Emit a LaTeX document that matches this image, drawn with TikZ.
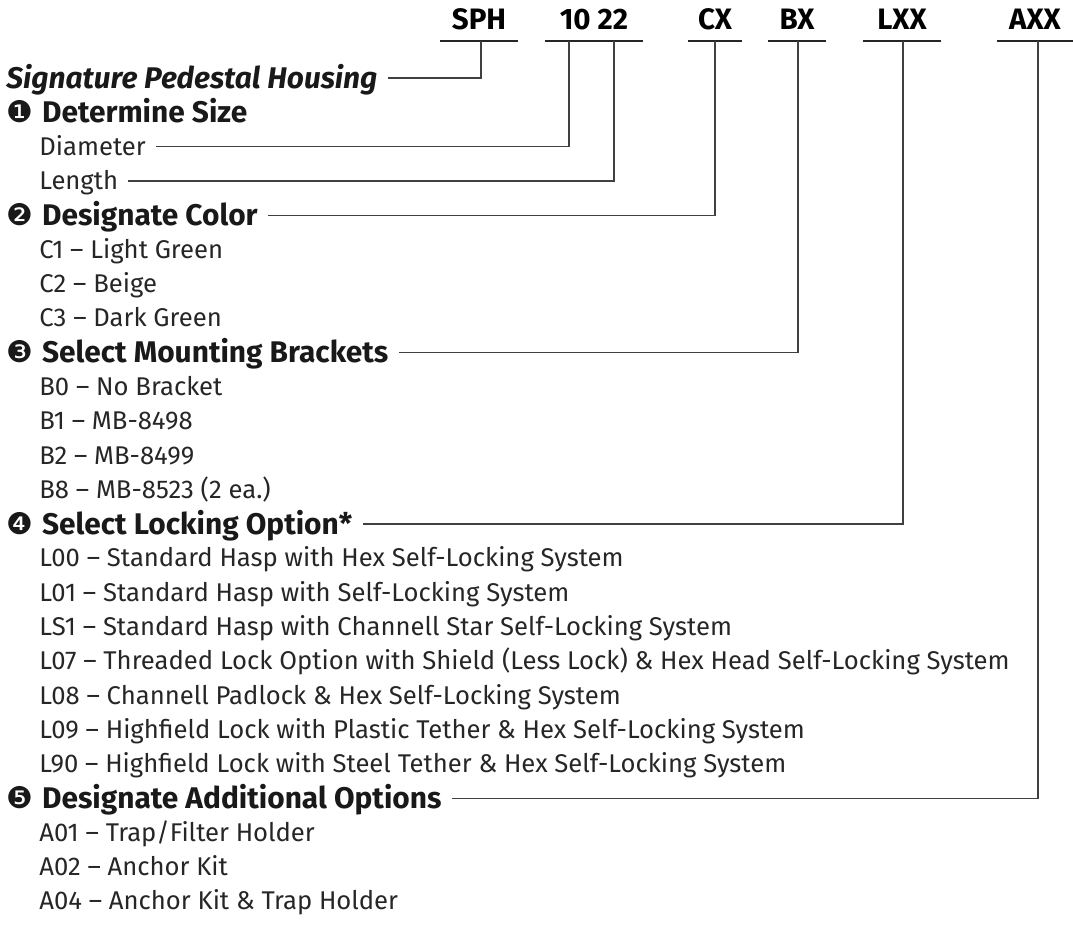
\documentclass[tikz,border=0pt]{standalone}
\usepackage{fontspec}
\setmainfont{Fira Sans}
\newfontfamily\dingfont{DejaVu Sans}
\usetikzlibrary{positioning}
\newcommand{\ding}[1]{{\dingfont\mdseries #1}\hspace{0.3em}}

\begin{document}
\begin{tikzpicture}[x=0.02cm,y=-0.02cm,
    code/.style={font=\bfseries\fontsize{16.8}{18}\selectfont,inner sep=0,text height=11.6pt,text depth=0.22cm,anchor=south},
    head/.style={font=\bfseries\fontsize{17}{20}\selectfont,inner sep=0,text height=11.7pt,text depth=0pt,anchor=west,text=black!90},
    item/.style={font=\fontsize{14.6}{16}\selectfont,inner sep=0,text height=10pt,text depth=0pt,anchor=west,text=black!85},
    bar/.style={line width=1.5pt,black!85},
    wire/.style={line width=0.75pt,black!75}]
    \useasboundingbox (0,0) rectangle (1073,934);

    \node[code,minimum width=1.54cm] (sph) at (479,41) {SPH};
    \node[code,minimum width=1.94cm] (size) at (594,41) {10 22};
    \node[code,minimum width=1.06cm] (cx) at (715,41) {CX};
    \node[code,minimum width=1.16cm] (bx) at (797,41) {BX};
    \node[code,minimum width=1.56cm] (lxx) at (902,41) {LXX};
    \node[code,minimum width=1.52cm] (axx) at (1035,41) {AXX};
    \foreach \c in {sph,size,cx,bx,lxx,axx}
      \draw[bar] (\c.south west) -- (\c.south east);

    \coordinate (t-sph) at (481,41);
    \coordinate (t-dia) at (569,41);
    \coordinate (t-len) at (614,41);
    \coordinate (t-col) at (715,41);
    \coordinate (t-brk) at (798,41);
    \coordinate (t-lock) at (903,41);
    \coordinate (t-add) at (1038,41);

    \node[head,font=\bfseries\itshape\fontsize{17}{20}\selectfont] (sig) at (6,78) {Signature Pedestal Housing};
    \node[head] (det) at (6,{78+34.3}) {\ding{❶}Determine Size};
    \node[item] (dia) at (39,{78+34.3*2}) {Diameter};
    \node[item] (len) at (39,{78+34.3*3}) {Length};
    \node[head] (col) at (6,{78+34.3*4}) {\ding{❷}Designate Color};
    \foreach \t [count=\i from 5] in {C1 -- Light Green,C2 -- Beige,C3 -- Dark Green}
      \node[item] (row\i) at (39,{78+34.3*\i}) {\t};
    \node[head] (brk) at (6,{78+34.3*8}) {\ding{❸}Select Mounting Brackets};
    \foreach \t [count=\i from 9] in {B0 -- No Bracket,B1 -- MB-8498,B2 -- MB-8499,B8 -- MB-8523 (2 ea.)}
      \node[item] (row\i) at (39,{78+34.3*\i}) {\t};
    \node[head] (lock) at (6,{78+34.3*13}) {\ding{❹}Select Locking Option*};
    \foreach \t [count=\i from 14] in {L00 -- Standard Hasp with Hex Self-Locking System,
        L01 -- Standard Hasp with Self-Locking System,
        LS1 -- Standard Hasp with Channell Star Self-Locking System,
        L07 -- Threaded Lock Option with Shield (Less Lock) \& Hex Head Self-Locking System,
        L08 -- Channell Padlock \& Hex Self-Locking System,
        L09 -- Highfield Lock with Plastic Tether \& Hex Self-Locking System,
        L90 -- Highfield Lock with Steel Tether \& Hex Self-Locking System}
      \node[item] (row\i) at (39,{78+34.3*\i}) {\t};
    \node[head] (add) at (6,{78+34.3*21}) {\ding{❺}Designate Additional Options};
    \foreach \t [count=\i from 22] in {A01 -- Trap/Filter Holder,A02 -- Anchor Kit,A04 -- Anchor Kit \& Trap Holder}
      \node[item] (row\i) at (39,{78+34.3*\i}) {\t};

    \draw[wire] ([xshift=0.2cm]sig.east) -| (t-sph);
    \draw[wire] ([xshift=0.2cm]dia.east) -| (t-dia);
    \draw[wire] ([xshift=0.2cm]len.east) -| (t-len);
    \draw[wire] ([xshift=0.2cm]col.east) -| (t-col);
    \draw[wire] ([xshift=0.2cm]brk.east) -| (t-brk);
    \draw[wire] ([xshift=0.2cm]lock.east) -| (t-lock);
    \draw[wire] ([xshift=0.2cm]add.east) -| (t-add);
\end{tikzpicture}
\end{document}
